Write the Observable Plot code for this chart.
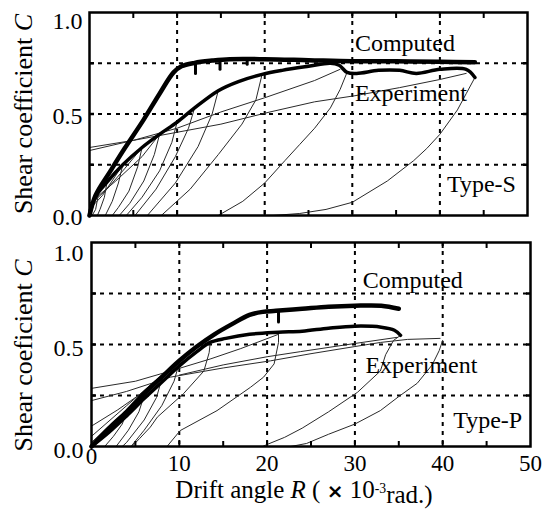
<!DOCTYPE html>
<html><head><meta charset="utf-8">
<script src="https://cdn.jsdelivr.net/npm/d3@7"></script>
<script src="https://cdn.jsdelivr.net/npm/@observablehq/plot@0.6"></script>
<style>
body{margin:0;background:#fff;}
#chart{width:551px;height:516px;font-family:"Liberation Serif",serif;}
#chart svg{display:block;}
</style></head><body><div id="chart"></div>
<script>
// ---------- axis values ----------
const xDomain = [0, 50];
const yDomain = [0, 1];
const xGrid = [10, 20, 30, 40];
const yGrid = [0.25, 0.5, 0.75];
const xMinorTicks = [5, 10, 15, 20, 25, 30, 35, 40, 45];
const yMinorTicks = [0.25, 0.5, 0.75];
const yTickLabels = [0, 0.5];
const yTopLabel = [1];
const xTickLabels = [10, 20, 30, 40, 50];
const xZeroLabel = [0];

const yTitleTop = "Shear coefficient C";
const yTitleBottom = "Shear coeficient C";
const xTitle = "Drift angle R ( × 10⁻³rad.)";

// ---------- Type-S (top) ----------
const topComputed = [[0,0],[0.7,0.1],[2.4,0.22],[4,0.33],[6.15,0.47],[8,0.6],[9.6,0.705],[10.5,0.735],[12,0.752],[14,0.763],[16,0.77],[20,0.77],[25,0.765],[30,0.76],[35,0.76],[40,0.757],[44,0.755]];
const topExperiment = [[0,0],[0.65,0.09],[2,0.165],[3.8,0.25],[6,0.335],[8,0.4],[10,0.46],[12,0.53],[14.7,0.615],[17,0.66],[19.7,0.695],[22,0.715],[25,0.735],[27.5,0.75],[28.5,0.74],[29.4,0.705],[30.5,0.7],[33,0.715],[35.4,0.715],[37.3,0.7],[40,0.72],[43,0.72],[44,0.68]];
const topNotches = [
  [[12.1,0.75],[12.1,0.70]],
  [[14.9,0.764],[14.9,0.72]],
  [[18,0.77],[18,0.745]]
];
const topLoops = [
  [[44,0.68],[43,0.6],[42,0.52],[40,0.4],[38.5,0.33],[37,0.27],[34,0.17],[30,0.065],[27,0.03],[24,0.01],[21,0]],
  [[29.4,0.705],[28.6,0.62],[27.5,0.53],[25.7,0.43],[24,0.35],[22.3,0.27],[20,0.16],[17.5,0.07],[14.7,0]],
  [[0,0.32],[5,0.37],[10,0.43],[15,0.51],[20,0.58],[25.7,0.665],[28.6,0.72]],
  [[0,0.335],[5,0.37],[10,0.41],[15,0.45],[20.6,0.51],[25.7,0.56],[30.3,0.59],[35.4,0.63],[40,0.67],[43,0.7]],
  [[2,0.165],[1.7,0.09],[1.2,0.03],[0.9,0]],
  [[3.8,0.25],[3.3,0.16],[2.6,0.07],[1.8,0]],
  [[6,0.335],[5.5,0.24],[4.5,0.12],[3.3,0.04],[2.6,0]],
  [[8,0.4],[7.4,0.3],[6.2,0.17],[4.6,0.06],[3.4,0]],
  [[10,0.46],[9.4,0.36],[8,0.22],[6,0.09],[4.2,0]],
  [[12,0.53],[11.3,0.43],[9.8,0.29],[7.6,0.13],[5.2,0]],
  [[14.7,0.615],[14,0.5],[12.4,0.34],[9.8,0.16],[6.6,0]],
  [[19.7,0.695],[19,0.57],[17.4,0.45],[14.7,0.3],[11.5,0.13],[8.2,0]],
  [[0,0.03],[1.5,0.1],[3.8,0.25]],
  [[0,0.05],[2,0.13],[4,0.23],[6,0.335]],
  [[0,0.06],[3,0.17],[6,0.29],[8,0.4]],
  [[0,0.0],[0.5,0.06],[1,0.1],[0.7,0.03],[0.3,0]]
];
const topNotes = [
  {label: "Computed", R: 30.3, C: 0.85},
  {label: "Experiment", R: 30.3, C: 0.604},
  {label: "Type-S", R: 40.8, C: 0.156}
];

// ---------- Type-P (bottom) ----------
const botComputed = [[0,0],[2,0.09],[4,0.17],[6,0.26],[8,0.34],[10,0.42],[12,0.49],[14,0.55],[16,0.6],[18,0.645],[19.5,0.66],[21,0.665],[24,0.675],[27,0.685],[30,0.69],[33,0.69],[35,0.675]];
const botExperiment = [[0,0],[2,0.07],[4,0.15],[6,0.235],[8,0.315],[10,0.395],[12,0.465],[13.5,0.51],[15.3,0.53],[18,0.55],[21.3,0.56],[24,0.565],[27,0.58],[30,0.59],[33,0.585],[34.5,0.57],[35.2,0.545]];
const botNotches = [
  [[21.3,0.665],[21.3,0.61]]
];
const botLoops = [
  [[40,0.52],[39.6,0.47],[38.8,0.4],[37.1,0.31],[35,0.245],[32.9,0.176],[30,0.11],[27,0.06],[24.5,0.015],[22.7,0]],
  [[35.2,0.545],[34.4,0.52],[33.5,0.45],[32.9,0.37],[30.3,0.266],[27,0.17],[24,0.09],[22,0.045],[20,0.01],[19.5,0]],
  [[21.3,0.55],[21.3,0.51],[20.8,0.405],[19.6,0.34],[18.1,0.29],[14.3,0.176],[10.1,0.078],[8.6,0]],
  [[13.5,0.5],[13.4,0.46],[12.8,0.37],[10.5,0.26],[7.5,0.144],[6.7,0.095],[5.5,0.04],[4.6,0]],
  [[0,0.285],[5,0.32],[9,0.37],[13.6,0.43],[17,0.48],[21.3,0.55]],
  [[0,0.225],[4,0.27],[9,0.34],[15,0.385],[20.4,0.42],[25,0.455],[30,0.49],[32.9,0.51],[36,0.525],[39.7,0.53]],
  [[10,0.35],[15,0.4],[20,0.44],[23.8,0.465],[30,0.505],[34.8,0.535]],
  [[4,0.17],[3.5,0.11],[2.5,0.05],[1.5,0]],
  [[6,0.25],[5.4,0.17],[4.2,0.08],[2.8,0]],
  [[8,0.33],[7.4,0.24],[6,0.13],[4,0.02],[3.5,0]],
  [[10,0.41],[9.4,0.32],[8,0.2],[6,0.08],[4.5,0]],
  [[0,0.05],[4,0.2],[8,0.35],[10,0.41]],
  [[0,0.1],[3,0.18],[6,0.27],[8,0.33]],
  [[0,0.02],[2,0.1],[4,0.18],[6,0.25]]
];
const botNotes = [
  {label: "Computed", R: 30.9, C: 0.817},
  {label: "Experiment", R: 31.2, C: 0.40},
  {label: "Type-P", R: 41.2, C: 0.13}
];

// ---------- drawing ----------
const flat = (loops) => loops.flatMap((pts, i) => pts.map(([R, C]) => ({R, C, id: i})));
const fmt = d3.format(".1f");
const dash = {stroke: "black", strokeOpacity: 1, strokeWidth: 2, strokeDasharray: "4,5"};

function panel(o) {
  const marks = [
    Plot.gridX(xGrid, dash),
    Plot.gridY(yGrid, dash),
    Plot.line(flat(o.loops), {x: "R", y: "C", z: "id", stroke: "#2a2a2a", strokeWidth: 1}),
    Plot.line(o.experiment, {x: d => d[0], y: d => d[1], stroke: "black", strokeWidth: 3.5, curve: "catmull-rom"}),
    Plot.line(o.computed, {x: d => d[0], y: d => d[1], stroke: "black", strokeWidth: 4.5, curve: "catmull-rom"}),
    Plot.line(flat(o.notches), {x: "R", y: "C", z: "id", stroke: "black", strokeWidth: 3}),
    Plot.text(o.notes, {x: "R", y: "C", text: "label", textAnchor: "start", lineAnchor: "middle", fontSize: 24, fill: "black"}),
    Plot.axisX(xMinorTicks, {anchor: "bottom", tickSize: -5, strokeWidth: 2, tickFormat: () => "", label: null}),
    Plot.axisX(xMinorTicks, {anchor: "top", tickSize: -5, strokeWidth: 2, tickFormat: () => "", label: null}),
    Plot.axisY(yMinorTicks, {anchor: "left", tickSize: -5, strokeWidth: 2.5, tickFormat: () => "", label: null}),
    Plot.axisY(yMinorTicks, {anchor: "right", tickSize: -5, strokeWidth: 2.5, tickFormat: () => "", label: null}),
    Plot.axisY(yTickLabels, {anchor: "left", tickSize: 0, tickPadding: o.pad, tickFormat: fmt, fontSize: 24, dy: o.zeroDy, label: null}),
    Plot.axisY(yTopLabel, {anchor: "left", tickSize: 0, tickPadding: o.pad, tickFormat: fmt, fontSize: 24, dy: o.oneDy, label: null}),
    Plot.text([o.yTitle], {frameAnchor: "left", rotate: -90, textAnchor: "middle", lineAnchor: "top", dx: o.yTitleDx, dy: o.yTitleDy, fontSize: 26, fill: "black"}),
    Plot.frame({stroke: "black", strokeWidth: 2.5})
  ];
  if (o.showX) {
    marks.push(
      Plot.axisX(xTickLabels, {anchor: "bottom", tickSize: 0, tickPadding: 8, fontSize: 23, label: null}),
      Plot.axisX(xZeroLabel, {anchor: "bottom", tickSize: 0, tickPadding: 1, fontSize: 23, label: null}),
      Plot.text([xTitle], {frameAnchor: "bottom", textAnchor: "middle", lineAnchor: "top", dx: -7, dy: 34, fontSize: 25, fill: "black"})
    );
  }
  const svg = Plot.plot({
    width: 551, height: o.height,
    marginTop: o.mt, marginBottom: o.mb, marginLeft: o.ml, marginRight: o.mr,
    x: {domain: xDomain}, y: {domain: yDomain},
    style: {fontFamily: "'Liberation Serif', 'Times New Roman', serif", fontSize: "24px", color: "black", background: "white"},
    marks
  });
  for (const t of svg.querySelectorAll("text")) {
    const s = t.textContent;
    if (s === yTitleTop || s === yTitleBottom) {
      t.innerHTML = s.slice(0, -1) + '<tspan font-style="italic">C</tspan>';
    } else if (s === xTitle) {
      t.innerHTML = 'Drift angle <tspan font-style="italic">R</tspan> ( <tspan font-family="DejaVu Sans" font-weight="bold" font-size="0.8em">×</tspan> 10<tspan dy="-0.4em" font-size="0.55em">-3</tspan><tspan dy="0.4em">rad.)</tspan>';
    }
  }
  return svg;
}

const root = document.getElementById("chart");
root.append(panel({
  height: 230, mt: 12, mb: 15, ml: 89, mr: 24,
  computed: topComputed, experiment: topExperiment, notches: topNotches, loops: topLoops, notes: topNotes,
  yTitle: yTitleTop, yTitleDx: -76, yTitleDy: 0, pad: 7, zeroDy: 2, oneDy: 9, showX: false
}));
root.append(panel({
  height: 286, mt: 12, mb: 70, ml: 91, mr: 21,
  computed: botComputed, experiment: botExperiment, notches: botNotches, loops: botLoops, notes: botNotes,
  yTitle: yTitleBottom, yTitleDx: -78, yTitleDy: 11, pad: 8, zeroDy: 4, oneDy: 11, showX: true
}));
</script></body></html>
